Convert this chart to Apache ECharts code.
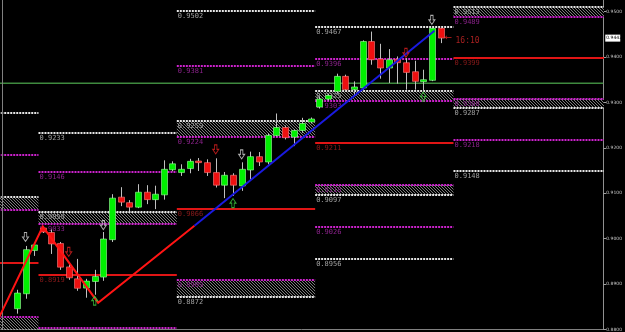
<!DOCTYPE html>
<html><head><meta charset="utf-8">
<script src="https://cdn.jsdelivr.net/npm/echarts@6/dist/echarts.min.js"></script>
<style>html,body{margin:0;padding:0;background:#000;overflow:hidden}#c{width:625px;height:332px}</style>
</head><body><div id="c"></div>
<script>
// ---- candle data (bar index 0..49) ----
const opens = [0.88458,0.88787,0.89741,0.90235,0.90136,0.89895,0.89379,0.89116,0.88912,0.89057,
0.89154,0.89978,0.90915,0.90794,0.90695,0.91024,0.90860,0.90965,0.91518,0.91456,
0.91544,0.91711,0.91675,0.91456,0.91178,0.91397,0.91162,0.91513,0.91807,0.91689,
0.92274,0.92450,0.92237,0.92384,0.92570,0.92899,0.93075,0.93246,0.93575,0.93283,
0.93320,0.94342,0.93956,0.93759,0.93952,0.93875,0.93678,0.93458,0.93487,0.94632];
const closes = [0.88803,0.89759,0.89862,0.90147,0.89884,0.89373,0.89138,0.88908,0.89066,0.89167,
0.89993,0.90893,0.90805,0.90695,0.91024,0.90860,0.90980,0.91528,0.91649,0.91528,
0.91704,0.91675,0.91456,0.91178,0.91397,0.91178,0.91528,0.91807,0.91689,0.92274,
0.92450,0.92224,0.92384,0.92537,0.92636,0.93075,0.93151,0.93575,0.93283,0.93342,
0.94342,0.93941,0.93759,0.93941,0.93875,0.93662,0.93465,0.93502,0.94632,0.94417];
const lows = [0.88349,0.88678,0.89621,0.90125,0.89664,0.89314,0.89094,0.88853,0.88700,0.88765,
0.89072,0.89928,0.90717,0.90607,0.90673,0.90761,0.90651,0.90860,0.91485,0.91382,
0.91441,0.91491,0.91382,0.91127,0.90893,0.90943,0.91053,0.91309,0.91601,0.91638,
0.92252,0.92186,0.92039,0.92333,0.92537,0.92866,0.93042,0.93195,0.93261,0.93136,
0.93246,0.93831,0.93524,0.93430,0.93414,0.93283,0.93283,0.93268,0.93469,0.94307];
const highs = [0.88875,0.89840,0.89906,0.90267,0.90202,0.89928,0.89450,0.89555,0.89116,0.89314,
0.90147,0.90980,0.91134,0.90849,0.91200,0.91178,0.91167,0.91726,0.91704,0.91638,
0.91759,0.91776,0.91748,0.91770,0.91469,0.91441,0.91682,0.91917,0.91908,0.92318,
0.92757,0.92493,0.92406,0.92662,0.92669,0.93129,0.93195,0.93634,0.93612,0.93465,
0.94368,0.94561,0.94292,0.94175,0.94013,0.93974,0.93919,0.93721,0.94658,0.94640];

// ---- price scale ticks ----
const yTicks = [0.88,0.89,0.90,0.91,0.92,0.93,0.94,0.95];

// ---- level blocks (bar-index ranges) ----
const blocks = [[-2.5,2.5],[2.5,18.5],[18.5,34.5],[34.5,50.5],[50.5,70]];
// [block, price, label]
const whiteLevels = [[0,0.9276,''],[1,0.9233,'0.9233'],[1,0.9059,'0.9059'],[2,0.9502,'0.9502'],[2,0.9259,'0.9259'],[2,0.8872,'0.8872'],
  [3,0.9467,'0.9467'],[3,0.9325,'0.9325'],[3,0.9097,'0.9097'],[3,0.8956,'0.8956'],[4,0.9511,'0.9513'],[4,0.9287,'0.9287'],[4,0.9148,'0.9148'],[0,0.9092,''],[0,0.8800,'']];
const magentaLevels = [[0,0.9184,''],[0,0.9064,''],[0,0.8827,''],[1,0.9146,'0.9146'],[1,0.9033,'0.9033'],[1,0.8804,''],
  [2,0.9381,'0.9381'],[2,0.9224,'0.9224'],[2,0.8909,'0.8909'],[3,0.9396,'0.9396'],[3,0.9303,'0.9303'],[3,0.9118,'0.9118'],[3,0.9026,'0.9026'],
  [4,0.9489,'0.9489'],[4,0.9308,'0.9308'],[4,0.9218,'0.9218']];
const redLevels = [[0,0.8946,''],[1,0.8919,'0.8919'],[2,0.9066,'0.9066'],[3,0.9211,'0.9211'],[4,0.9399,'0.9399']];
// [block, upper, lower]
const zones = [[0,0.9092,0.9064],[0,0.8827,0.8790],[1,0.9059,0.9033],[2,0.9259,0.9224],[2,0.8909,0.8872],
  [3,0.9325,0.9303],[3,0.9118,0.9097],[4,0.9511,0.9489],[4,0.9308,0.9287]];
const greenLine = 0.93425;
const leftMarker = -1.72;

// ---- zigzag & trend ----
const zigzag = [[-2.5,0.8809],[3,0.90267],[9.4,0.88590],[20.54,0.90285]];
const trendBlue = [[20.54,0.90285],[48.3,0.94580]];

// ---- fractal arrows [bar, price, dir, colour key] ----
const fractals = [[1,0.90037,'down','w'],[6,0.89708,'down','r'],[9,0.88634,'up','g'],[10,0.90300,'down','w'],
  [23,0.91967,'down','r'],[25,0.90783,'up','g'],[26,0.91857,'down','w'],[45,0.94094,'down','r'],[47,0.93129,'up','g'],[48,0.94818,'down','w']];
const timeLeft = '16:10';

// ---- styling ----
const X_MIN = -1.9509, X_MAX = 67.822;
const Y_MIN = 0.88, Y_MAX = 0.952566;
const COL = {w:'#e6e6e6', m:'#cc22cc', r:'#e01515'};
const LCOL = {w:'#a0a0a0', m:'#8a228a', r:'#8a1a1a'};
const FCOL = {w:'#d8d8d8', r:'#e02020', g:'#40d040'};
const FONT = '7px "DejaVu Sans Mono", monospace';

const hatch = document.createElement('canvas'); hatch.width = 3; hatch.height = 3;
(function(){const g = hatch.getContext('2d'); g.fillStyle = '#000'; g.fillRect(0,0,3,3); g.fillStyle = '#7c7c7c';
  for (let i=0;i<3;i++) g.fillRect(i,i,1,1);})();

const allLevels = [].concat(
  whiteLevels.map(l => ({b:l[0], p:l[1], t:l[2], k:'w'})),
  magentaLevels.map(l => ({b:l[0], p:l[1], t:l[2], k:'m'})),
  redLevels.map(l => ({b:l[0], p:l[1], t:l[2], k:'r'})));

const downPath = 'path://M3,0 L7,0 L7,5 L10,5 L5,10 L0,5 L3,5 Z';
const upPath = 'path://M3,10 L7,10 L7,5 L10,5 L5,0 L0,5 L3,5 Z';

const candleData = opens.map((o,i) => [i, o, closes[i], lows[i], highs[i]]);

const option = {
  backgroundColor: '#000',
  animation: false,
  grid: {left: 0, right: 17, top: 0, bottom: 1.1},
  xAxis: {type:'value', min:X_MIN, max:X_MAX, axisLine:{show:true, onZero:false, lineStyle:{color:'#808080'}},
    axisTick:{show:false}, axisLabel:{show:false}, splitLine:{show:false}},
  yAxis: {type:'value', position:'right', min:Y_MIN, max:Y_MAX, interval:0.01, scale:true,
    axisLine:{show:true, onZero:false, lineStyle:{color:'#909090', width:1}},
    axisTick:{show:true, length:3, lineStyle:{color:'#a0a0a0'}},
    axisLabel:{color:'#c8c8c8', fontSize:4.5, margin:3, fontFamily:'DejaVu Sans', showMaxLabel:false,
      formatter: v => yTicks.some(t => Math.abs(t - v) < 1e-6) ? v.toFixed(4) : ''},
    splitLine:{show:false}},
  series: [
    { // hatched zones
      type:'custom', z:1, clip:true,
      data: zones.map(z => [blocks[z[0]][0], z[1], blocks[z[0]][1], z[2]]),
      renderItem: (params, api) => {
        const a = api.coord([api.value(0), api.value(1)]), b = api.coord([api.value(2), api.value(3)]);
        return {type:'rect', shape:{x:a[0], y:a[1], width:b[0]-a[0], height:b[1]-a[1]},
          style:{fill:{image:hatch, repeat:'repeat'}}};
      }
    },
    { // level lines + labels
      type:'custom', z:2, clip:true,
      data: allLevels.map(l => [blocks[l.b][0], l.p, blocks[l.b][1]]),
      renderItem: (params, api) => {
        const l = allLevels[params.dataIndex];
        const a = api.coord([api.value(0), api.value(1)]), b = api.coord([api.value(2), api.value(1)]);
        const y = Math.round(a[1]);
        const children = [{type:'line', shape:{x1:a[0], y1:y, x2:b[0], y2:y},
          style:{stroke:COL[l.k], lineWidth:2, lineDash: l.k === 'r' ? null : [2,1]}}];
        if (l.t) children.push({type:'text', x:a[0]+1, y:y+2,
          style:{text:l.t, fill:LCOL[l.k], font:FONT, align:'left', verticalAlign:'top'}});
        return {type:'group', children};
      }
    },
    { // green horizontal line and left vertical marker
      type:'custom', z:2, clip:true,
      data:[[X_MIN, greenLine, X_MAX],[leftMarker, Y_MIN, Y_MAX]],
      renderItem: (params, api) => {
        if (params.dataIndex === 0) {
          const a = api.coord([api.value(0), api.value(1)]), b = api.coord([api.value(2), api.value(1)]);
          return {type:'line', shape:{x1:a[0], y1:a[1], x2:b[0], y2:a[1]}, style:{stroke:'#3f8a3f', lineWidth:1.5}};
        }
        const a = api.coord([api.value(0), api.value(1)]), b = api.coord([api.value(0), api.value(2)]);
        const x = Math.round(a[0]) + 0.5;
        return {type:'line', shape:{x1:x, y1:a[1], x2:x, y2:b[1]}, style:{stroke:'#808080', lineWidth:1}};
      }
    },
    { // candles
      type:'custom', z:4, clip:true,
      data: candleData,
      renderItem: (params, api) => {
        const i = api.value(0), o = api.value(1), c = api.value(2), lo = api.value(3), hi = api.value(4);
        const po = api.coord([i,o]), pc = api.coord([i,c]), pl = api.coord([i,lo]), ph = api.coord([i,hi]);
        const cx = Math.round(po[0]);
        const bull = c >= o;
        const top = Math.min(po[1], pc[1]), h = Math.max(1.5, Math.abs(po[1]-pc[1]));
        return {type:'group', children:[
          {type:'line', shape:{x1:cx+0.5, y1:ph[1], x2:cx+0.5, y2:pl[1]}, style:{stroke:'#c0c0c0', lineWidth:1}},
          {type:'rect', shape:{x:cx-2.5, y:top, width:6, height:h},
            style:{fill: bull ? '#00f000' : '#ee1010', stroke: bull ? '#9cff9c' : '#ff8080', lineWidth:0.6}}
        ]};
      }
    },
    { // zigzag (red) + blue trend
      type:'custom', z:5, clip:true,
      data:[[0],[1]],
      renderItem: (params, api) => {
        const pts = (params.dataIndex === 0 ? zigzag : trendBlue).map(p => api.coord(p));
        return {type:'polyline', shape:{points:pts},
          style:{stroke: params.dataIndex === 0 ? '#ff1414' : '#1a1ae0', lineWidth:2, fill:null,
            blend: params.dataIndex === 0 ? 'lighter' : 'source-over'}};
      }
    },
    { // fractal arrows
      type:'scatter', z:6, silent:true,
      data: fractals.map(f => ({value:[f[0], f[1]], symbol: f[2] === 'down' ? downPath : upPath,
        itemStyle:{color:'rgba(0,0,0,0)', borderColor:FCOL[f[3]], borderWidth:1}})),
      symbolSize:[6,9]
    },
    { // current price tag, price arrow and time left
      type:'custom', z:7, clip:false,
      data:[[49, closes[49]]],
      renderItem: (params, api) => {
        const p = api.coord([api.value(0), api.value(1)]);
        const e = api.coord([X_MAX, api.value(1)]);
        return {type:'group', children:[
          {type:'rect', shape:{x:e[0]+2, y:e[1]-3.5, width:15, height:7}, style:{fill:'#ffffff'}},
          {type:'text', x:e[0]+3, y:e[1], style:{text:api.value(1).toFixed(4), fill:'#000', font:'4.5px "DejaVu Sans"', align:'left', verticalAlign:'middle'}},
          {type:'text', x:p[0]+4, y:p[1], style:{text:'\u2190', fill:'#d02020', font:'9px "DejaVu Sans"', align:'left', verticalAlign:'middle'}},
          {type:'text', x:p[0]+15, y:p[1]+3, style:{text:timeLeft, fill:'#a82020', font:'8px "DejaVu Sans Mono", monospace', align:'left', verticalAlign:'middle'}}
        ]};
      }
    }
  ]
};
const chart = echarts.init(document.getElementById('c'));
chart.setOption(option);
</script>
</body></html>
